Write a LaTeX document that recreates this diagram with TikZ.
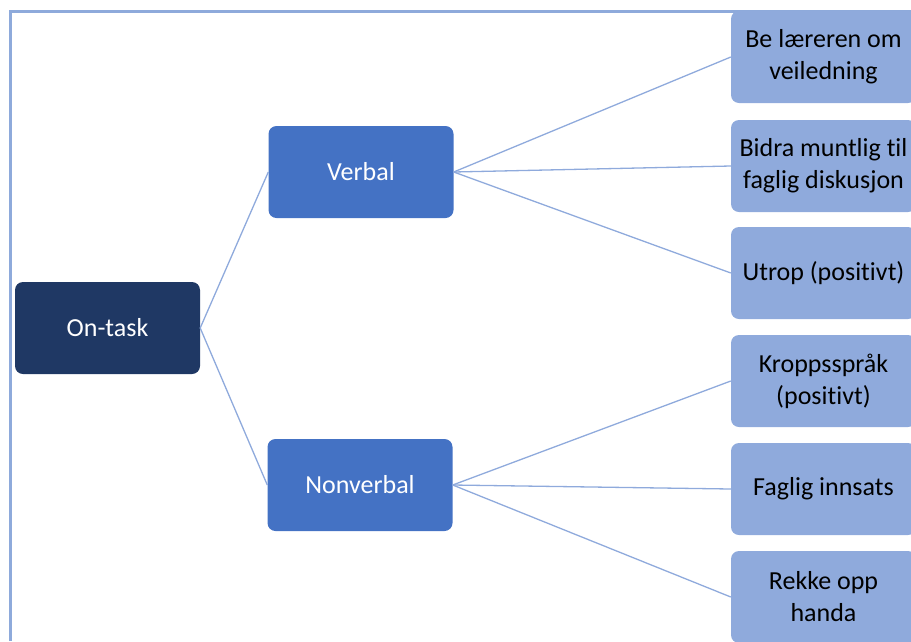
\documentclass[tikz,border=0pt]{standalone}
\usepackage{fontspec}
\setmainfont{Carlito}[Ligatures=CommonOff]
\definecolor{rootBlue}{HTML}{1F3864}
\definecolor{midBlue}{HTML}{4472C4}
\definecolor{leafBlue}{HTML}{8FAADC}
\definecolor{lineBlue}{HTML}{8FAADC}
\definecolor{frameBlue}{HTML}{8EAADB}

\begin{document}
\begin{tikzpicture}
[x=1pt,y=-1pt,
  lineDecorate/.style={-,line width=1.3pt,draw=lineBlue},
  boxDecorate/.style={shape=rectangle,rounded corners=8pt,minimum width=185pt,
    minimum height=92pt,inner sep=2pt,align=center,font=\fontsize{26}{32}\selectfont},
  rootDecorate/.style={boxDecorate,fill=rootBlue,text=white},
  midDecorate/.style={boxDecorate,fill=midBlue,text=white},
  leafDecorate/.style={boxDecorate,fill=leafBlue,text=black}]
\useasboundingbox (0,0) rectangle (911,641);
\clip (0,0) rectangle (911,641);
%% frame
\draw[frameBlue,line width=3pt] (10,641) -- (10,11) -- (911,11);
%% nodes or vertices
\node (ontask) at (107.5,328) [rootDecorate] {On-task};
\node (verbal) at (361,172) [midDecorate] {Verbal};
\node (nonverbal) at (360,485) [midDecorate] {Nonverbal};
\foreach \nodename/\y/\txt in {
  veiledning/57/{Be læreren om\\veiledning},
  diskusjon/166/{Bidra muntlig til\\faglig diskusjon},
  utrop/273/{Utrop (positivt)},
  kroppsspraak/381/{Kroppsspråk\\(positivt)},
  innsats/489/{Faglig innsats},
  handa/597/{Rekke opp\\handa}}
{
  \node (\nodename) at (823.5,\y) [leafDecorate] {\txt};
}
%% edges or lines
\path
\foreach \startnode/\endnode in {ontask/verbal, ontask/nonverbal,
  verbal/veiledning, verbal/diskusjon, verbal/utrop,
  nonverbal/kroppsspraak, nonverbal/innsats, nonverbal/handa}
{
  (\startnode.east) edge[lineDecorate] (\endnode.west)
};
\end{tikzpicture}
\end{document}
